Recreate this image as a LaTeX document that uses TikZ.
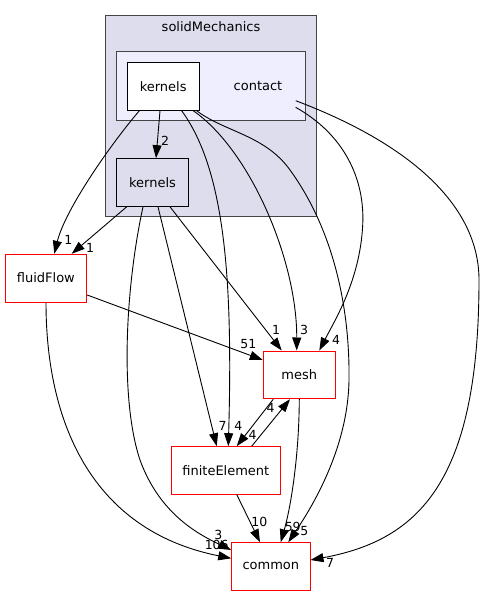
\documentclass[tikz,border=0pt]{standalone}
\usepackage{fontspec}
\setmainfont{DejaVu Sans}
\usetikzlibrary{arrows.meta,calc}
\definecolor{clusterA}{HTML}{DDDDEE}
\definecolor{clusterB}{HTML}{EEEEFF}
\definecolor{clusterline}{HTML}{444444}
\newcommand{\nodefnt}{\fontsize{13}{15}\selectfont}
\newcommand{\lblfnt}{\fontsize{12.5}{14}\selectfont}
\begin{document}
\begin{tikzpicture}[x=1pt,y=-1pt,
  cluster/.style={draw=clusterline, line width=1pt, inner sep=0pt},
  dirbox/.style={draw=red, fill=white, line width=1pt, inner sep=0pt, font=\nodefnt},
  subbox/.style={draw=black, line width=1pt, inner sep=0pt, font=\nodefnt},
  edge/.style={draw=black, line width=0.9pt, -{Triangle[length=13pt,width=9pt]}},
  lbl/.style={font=\lblfnt, inner sep=0pt},
  ctitle/.style={font=\nodefnt, inner sep=0pt}]
\useasboundingbox (0,0) rectangle (485,596);
% clusters
\node[cluster, fill=clusterA, minimum width=211pt, minimum height=200.3pt] (sm) at (211.2,115.85) {};
\node[ctitle] (smt) at (211,27) {solidMechanics};
\node[cluster, fill=clusterB, minimum width=189.4pt, minimum height=69.3pt] (contact) at (211,86.35) {};
\node[ctitle] (contactt) at (258,86) {contact};
% nodes
\node[subbox, fill=white, minimum width=72.3pt, minimum height=48pt] (ck) at (163.15,86.3) {kernels};
\node[subbox, fill=clusterA, minimum width=72.4pt, minimum height=47.6pt] (sk) at (152.5,182.5) {kernels};
\node[dirbox, minimum width=81.7pt, minimum height=47.7pt] (ff) at (45.85,278.15) {fluidFlow};
\node[dirbox, minimum width=72pt, minimum height=47.7pt] (mesh) at (299.3,374.85) {mesh};
\node[dirbox, minimum width=108.3pt, minimum height=47.3pt] (fe) at (225.85,470.35) {finiteElement};
\node[dirbox, minimum width=78.3pt, minimum height=47.3pt] (common) at (270.85,566.35) {common};
% edges
\draw[edge] ([xshift=-23.85pt]ck.south) .. controls (110,145) and (65,210) .. ([xshift=8.45pt]ff.north);
\node[lbl] (l1) at (68.3,240) {1};
\draw[edge] ([xshift=-25.8pt]sk.south) -- ([xshift=25.85pt]ff.north);
\node[lbl] (l2) at (90,248.3) {1};
\draw[edge] ([xshift=-3.15pt]ck.south) -- ([xshift=3.5pt]sk.north);
\node[lbl] (l3) at (165,141) {2};
\draw[edge] ([xshift=17.5pt]sk.south) -- ([xshift=-17.6pt]mesh.north);
\node[lbl] (l4) at (276,330) {1};
\draw[edge] ([xshift=30.15pt]ck.south) .. controls (250,150) and (297,260) .. ([xshift=-2.6pt]mesh.north);
\node[lbl] (l5) at (304,330) {3};
\draw[edge] ($(contact.center)+(84.7,21)$) .. controls (345,135) and (365,180) .. (362.7,225) .. controls (360,280) and (335,320) .. ([xshift=20pt]mesh.north);
\node[lbl] (l6) at (336,340) {4};
\draw[edge] ($(contact.center)+(84.7,14.35)$) .. controls (400,140) and (479,200) .. (479,280) .. controls (479,480) and (420,540) .. ([yshift=6.35pt]common.east);
\node[lbl] (l7) at (330,563.3) {7};
\draw[edge] ([xshift=18.55pt]ck.south) .. controls (225,170) and (233,280) .. ([xshift=2.45pt]fe.north);
\node[lbl] (l8) at (238.3,426) {4};
\draw[edge] ([xshift=33.55pt]ck.south) .. controls (225,132) and (265,135) .. (290,170) .. controls (330,225) and (350,300) .. (349,380) .. controls (348,450) and (310,510) .. ([xshift=17.45pt]common.north);
\node[lbl] (l9) at (304.3,530.7) {5};
\draw[edge] ([xshift=5.5pt]sk.south) -- ([xshift=-9.15pt]fe.north);
\node[lbl] (l10) at (222.7,426) {7};
\draw[edge] ([xshift=-9.5pt]sk.south) .. controls (125,290) and (120,400) .. (140,460) .. controls (160,515) and (200,535) .. ([yshift=16.35pt]common.west);
\node[lbl] (l11) at (218.3,535) {3};
\draw[edge] ([xshift=0.15pt]ff.south) .. controls (46,420) and (90,530) .. ([yshift=8pt]common.west);
\node[lbl] (l12) at (216.7,545) {106};
\draw[edge] ([yshift=-16.85pt]ff.east) -- ([yshift=14.85pt]mesh.west);
\node[lbl] (l13) at (248.3,344) {51};
\draw[edge] ([xshift=-26pt]mesh.south) -- ([xshift=10.85pt]fe.north);
\node[lbl] (l14) at (252.7,435) {4};
\draw[edge] ([xshift=25.85pt]fe.north) -- ([xshift=-9.3pt]mesh.south);
\node[lbl] (l15) at (270.7,408) {4};
\draw[edge] ([xshift=10.85pt]fe.south) -- ([xshift=-10.85pt]common.north);
\node[lbl] (l16) at (259.3,521.7) {10};
\draw[edge] (mesh.south) .. controls (299,460) and (290,510) .. ([xshift=9.85pt]common.north);
\node[lbl] (l17) at (292.7,526.7) {59};
\end{tikzpicture}
\end{document}
